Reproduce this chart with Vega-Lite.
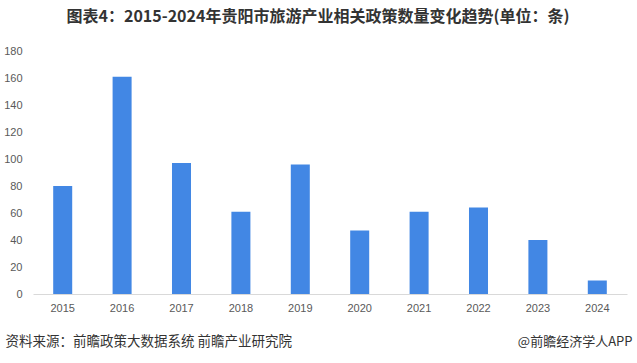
{
  "$schema": "https://vega.github.io/schema/vega-lite/v6.json",
  "width": 594,
  "height": 243,
  "autosize": "none",
  "padding": {"left": 33, "top": 51, "right": 10, "bottom": 69},
  "background": "white",
  "title": {
    "text": "图表4：2015-2024年贵阳市旅游产业相关政策数量变化趋势(单位：条)",
    "font": "Noto Sans CJK SC",
    "fontSize": 16,
    "fontWeight": "bold",
    "color": "#333333",
    "anchor": "middle",
    "dx": -12,
    "offset": 20
  },
  "data": {
    "values": [
      {"year": "2015", "value": 80},
      {"year": "2016", "value": 161},
      {"year": "2017", "value": 97},
      {"year": "2018", "value": 61},
      {"year": "2019", "value": 96},
      {"year": "2020", "value": 47},
      {"year": "2021", "value": 61},
      {"year": "2022", "value": 64},
      {"year": "2023", "value": 40},
      {"year": "2024", "value": 10}
    ]
  },
  "config": {
    "view": {"stroke": null},
    "axis": {"labelFont": "Liberation Sans", "labelColor": "#595959", "labelFontSize": 11, "grid": false, "ticks": false, "tickSize": 0}
  },
  "layer": [
    {
      "mark": {"type": "bar", "color": "#4287E4"},
      "encoding": {
        "x": {
          "field": "year", "type": "ordinal",
          "scale": {"paddingInner": 0.68, "paddingOuter": 0.34},
          "axis": {
            "labelAngle": 0, "labelPadding": 8, "domainColor": "#d9d9d9", "domainWidth": 1,
            "title": "资料来源：前瞻政策大数据系统 前瞻产业研究院",
            "titleFont": "Noto Sans CJK SC", "titleFontSize": 13.5, "titleFontWeight": "normal", "titleColor": "#333333",
            "titleAnchor": "start", "titleAlign": "left", "titleBaseline": "middle", "titleX": -28, "titleY": 47
          }
        },
        "y": {
          "field": "value", "type": "quantitative",
          "scale": {"domain": [0, 180]},
          "axis": {"values": [0, 20, 40, 60, 80, 100, 120, 140, 160, 180], "domain": false, "labelPadding": 11, "title": null}
        }
      }
    },
    {
      "mark": {"type": "bar", "opacity": 0},
      "encoding": {
        "x": {"field": "year", "type": "ordinal"},
        "y": {
          "field": "value", "type": "quantitative",
          "axis": {
            "orient": "right", "labels": false, "domain": false,
            "title": "@前瞻经济学人APP",
            "titleFont": "Noto Sans CJK SC", "titleFontSize": 13, "titleFontWeight": "normal", "titleColor": "#333333",
            "titleAngle": 0, "titleAlign": "right", "titleBaseline": "middle", "titleX": 5, "titleY": 290
          }
        }
      }
    }
  ],
  "resolve": {"axis": {"y": "independent"}}
}
